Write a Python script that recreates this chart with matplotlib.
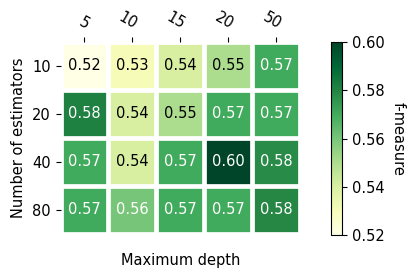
import numpy as np
import matplotlib
matplotlib.use('Agg')
import matplotlib.pyplot as plt

# data
depths = ['5', '10', '15', '20', '50']
estimators = ['10', '20', '40', '80']
row_10 = [0.520, 0.530, 0.540, 0.550, 0.570]
row_20 = [0.581, 0.540, 0.550, 0.570, 0.570]
row_40 = [0.570, 0.540, 0.570, 0.600, 0.578]
row_80 = [0.570, 0.560, 0.570, 0.570, 0.579]

scores = np.array([row_10, row_20, row_40, row_80])
fs = 10.5

fig = plt.figure(figsize=(4.15, 2.74), dpi=100)
ax = fig.add_axes([0.1458, 0.146, 0.578, 0.701])
cax = fig.add_axes([0.7976, 0.142, 0.0265, 0.704])

im = ax.imshow(scores, cmap='YlGn', vmin=0.52, vmax=0.60, aspect='auto',
               interpolation='nearest')
cbar = fig.colorbar(im, cax=cax, ticks=[0.52, 0.54, 0.56, 0.58, 0.60])
cbar.ax.set_ylabel('f-measure', rotation=-90, va='bottom', fontsize=fs, labelpad=4.6)
cbar.ax.tick_params(labelsize=fs)

ax.set_xticks(np.arange(len(depths)))
ax.set_yticks(np.arange(len(estimators)))
ax.set_xticklabels(depths)
ax.set_yticklabels(estimators)
ax.tick_params(top=True, bottom=False, labeltop=True, labelbottom=False, labelsize=fs)
plt.setp(ax.get_xticklabels(), rotation=-30, ha='right', rotation_mode='anchor')
ax.set_axisbelow(False)

for s in ax.spines.values():
    s.set_visible(False)

# white gaps between cells (not clipped so the outer edges stay clean)
for x in np.arange(len(depths) + 1) - .5:
    ax.axvline(x, color='w', linewidth=3.4, clip_on=False)
for y in np.arange(len(estimators) + 1) - .5:
    ax.axhline(y, color='w', linewidth=3.4, clip_on=False)
ax.set_xlim(-0.5, len(depths) - 0.5)
ax.set_ylim(len(estimators) - 0.5, -0.5)

for i in range(scores.shape[0]):
    for j in range(scores.shape[1]):
        v = scores[i, j]
        col = 'white' if v >= 0.56 else 'black'
        ax.text(j, i, f'{v:.2f}', ha='center', va='center', color=col, fontsize=fs)

ax.set_xlabel('Maximum depth', fontsize=fs, labelpad=14)
ax.set_ylabel('Number of estimators', fontsize=fs)

plt.savefig('out.png', dpi=100)
